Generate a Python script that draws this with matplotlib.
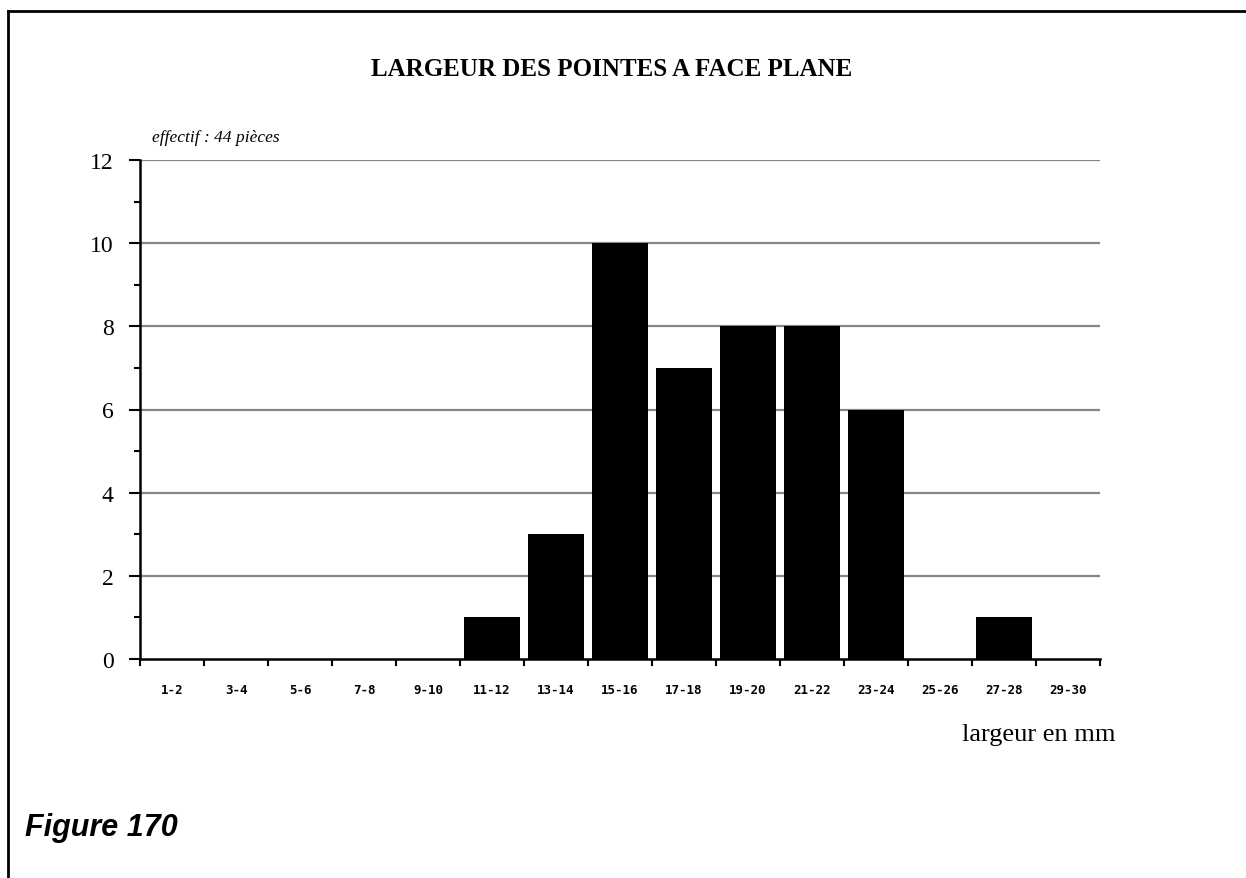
import numpy as np
import matplotlib.pyplot as plt
from matplotlib.lines import Line2D

categories = ["1-2", "3-4", "5-6", "7-8", "9-10", "11-12", "13-14", "15-16",
              "17-18", "19-20", "21-22", "23-24", "25-26", "27-28", "29-30"]
counts = [0, 0, 0, 0, 0, 1, 3, 10, 7, 8, 8, 6, 0, 1, 0]
y_ticks = [0, 2, 4, 6, 8, 10, 12]

fig = plt.figure(figsize=(12.46, 8.79), dpi=100)
ax = fig.add_axes([140 / 1246, 219 / 879, 960 / 1246, 499 / 879])

x = np.arange(len(categories)) + 0.5
ax.bar(x, counts, width=0.86, color="black", zorder=3)

ax.set_xlim(0, len(categories))
ax.set_ylim(0, 12)
ax.set_yticks(y_ticks)
ax.set_yticks(np.arange(0, 13, 1), minor=True)
ax.set_yticklabels([str(v) for v in y_ticks], fontsize=17, family="Liberation Serif")
for v in y_ticks[1:]:
    ax.axhline(v, color="#858585", lw=1.6, zorder=1)

ax.set_xticks(x)
ax.set_xticklabels(categories, fontsize=9, family="DejaVu Sans Mono", fontweight="bold")
ax.set_xticks(np.arange(0, len(categories) + 1), minor=True)
ax.tick_params(axis="x", which="major", length=0, pad=17.5)
ax.tick_params(axis="x", which="minor", length=5, width=1.5, direction="out")
ax.tick_params(axis="y", which="major", length=8, width=1.5, direction="out", pad=11)
ax.tick_params(axis="y", which="minor", length=4.5, width=1.5, direction="out")

for s in ["top", "right"]:
    ax.spines[s].set_visible(False)
for s in ["left", "bottom"]:
    ax.spines[s].set_linewidth(1.8)

fig.text(612 / 1246, 1 - 70 / 879, "LARGEUR DES POINTES A FACE PLANE", ha="center", va="center",
         fontsize=18, fontweight="bold", family="Liberation Serif")
fig.text(152 / 1246, 1 - 138 / 879, "effectif : 44 pièces", ha="left", va="center",
         fontsize=12.5, style="italic", family="Liberation Serif")
fig.text(962 / 1246, 1 - 735 / 879, "largeur en mm", ha="left", va="center",
         fontsize=19, family="Liberation Serif")
fig.text(25 / 1246, 1 - 828 / 879, "Figure 170", ha="left", va="center",
         fontsize=22, fontweight="bold", style="italic", family="Liberation Sans")

# page frame
fig.add_artist(Line2D([8 / 1246, 1], [1 - 12 / 879, 1 - 12 / 879], color="black", lw=2))
fig.add_artist(Line2D([8 / 1246, 8 / 1246], [0, 1 - 12 / 879], color="black", lw=2))

fig.savefig("out.png", dpi=100)
